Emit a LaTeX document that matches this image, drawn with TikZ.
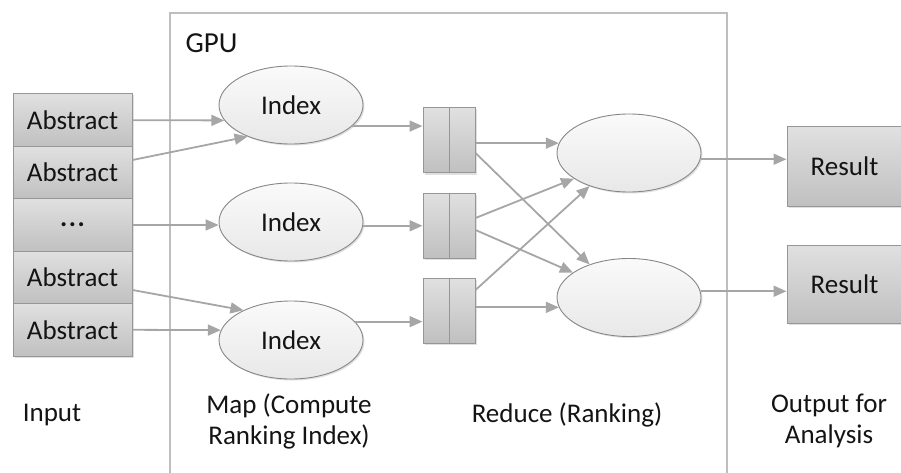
\documentclass[tikz,border=0pt]{standalone}
\usepackage{fontspec}
\setmainfont{Carlito}
\usetikzlibrary{arrows.meta,shadows,calc,shapes.geometric}
\definecolor{linegray}{RGB}{166,166,166}
\definecolor{framegray}{RGB}{190,190,190}
\definecolor{boxedge}{RGB}{150,150,150}
\definecolor{boxtop}{RGB}{224,224,224}
\definecolor{boxbot}{RGB}{192,192,192}
\definecolor{ovaledge}{RGB}{135,135,135}
\definecolor{ovaltop}{RGB}{250,250,250}
\definecolor{ovalbot}{RGB}{232,232,232}
\definecolor{ink}{RGB}{20,20,20}

\begin{document}
\begin{tikzpicture}[x=1pt,y=-1pt,
  every node/.style={font=\fontsize{27}{31}\selectfont, text=ink},
  softshadow/.style={drop shadow={shadow xshift=1.5pt,shadow yshift=-1.5pt,fill=black,opacity=0.12}},
  graybox/.style={draw=boxedge, line width=1pt, top color=boxtop, bottom color=boxbot, inner sep=0pt, softshadow},
  absbox/.style={graybox, minimum width=119pt, minimum height=52.4pt},
  queuebox/.style={graybox, minimum width=52pt, minimum height=65pt},
  resultbox/.style={graybox, minimum width=115pt, minimum height=79pt},
  oval/.style={ellipse, draw=ovaledge, line width=0.9pt, top color=ovaltop, bottom color=ovalbot,
               minimum width=144pt, minimum height=78pt, inner sep=0pt, softshadow},
  flow/.style={draw=linegray, line width=1.8pt, -{Triangle[length=13pt,width=11pt]}},
  captiontext/.style={align=center}
]
\clip (0,0) rectangle (901,473);
\useasboundingbox (0,0) rectangle (901,473);

% GPU frame (open at the bottom)
\draw[framegray, line width=1.5pt] (170,480) -- (170,13) -- (727,13) -- (727,480);
\node[font=\fontsize{29}{31}\selectfont] (gpu) at (211.5,43) {GPU};

% input stack
\node[absbox] (a1) at (72.5,120.2) {Abstract};
\node[absbox] (a2) at (72.5,172.6) {Abstract};
\node[absbox] (a3) at (72.5,225.0) {\textbf{.\kern1.6pt.\kern1.6pt.}};
\node[absbox] (a4) at (72.5,277.4) {Abstract};
\node[absbox] (a5) at (72.5,329.8) {Abstract};

% map stage
\node[oval] (i1) at (291,105) {Index};
\node[oval] (i2) at (291,222) {Index};
\node[oval] (i3) at (291,340) {Index};

% intermediate queues
\foreach \n/\y in {q1/140.5, q2/225.5, q3/310.5} {
  \node[queuebox] (\n) at (449,\y) {};
  \draw[boxedge, line width=1pt] (\n.north) -- (\n.south);
}

% reduce stage
\node[oval] (r1) at (629,153) {};
\node[oval] (r2) at (629,297.5) {};

% results
\node[resultbox] (res1) at (844.5,166.5) {Result};
\node[resultbox, minimum height=78pt] (res2) at (844.5,284) {Result};

% input -> map
\draw[flow] (a1.east) -- (i1.193);
\draw[flow] ($(a2.east)+(0,-12.6)$) -- (i1.216);
\draw[flow] (a3.east) -- (i2.west |- a3.east);
\draw[flow] ($(a4.east)+(0,12.6)$) -- (i3.148);
\draw[flow] (a5.east) -- (i3.172);

% map -> queues
\draw[flow] (i1.341) -- (q1.west |- i1.341);
\draw[flow] (i2.357) -- (q2.west |- i2.357);
\draw[flow] (i3.16) -- (q3.west |- i3.16);

% queues -> reduce
\draw[flow] (q1.east |- r1.172) -- (r1.172);
\draw[flow] ($(q1.east)+(0,12.5)$) -- (r2.140);
\draw[flow] ($(q2.east)+(0,-7.5)$) -- (r1.205);
\draw[flow] ($(q2.east)+(0,4.5)$) -- (r2.156);
\draw[flow] ($(q3.east)+(0,-20.5)$) -- (r1.220);
\draw[flow] (q3.east |- r2.188) -- (r2.188);

% reduce -> results
\draw[flow] (r1.355) -- (res1.west |- r1.355);
\draw[flow] (r2.5) -- (res2.west |- r2.5);

% stage captions
\node[captiontext] (cin) at (52,415) {Input};
\node[captiontext] (cmap) at (289,421) {Map (Compute\\Ranking Index)};
\node[captiontext] (cred) at (567,415) {Reduce (Ranking)};
\node[captiontext] (cout) at (829,421) {Output for\\Analysis};
\end{tikzpicture}
\end{document}
